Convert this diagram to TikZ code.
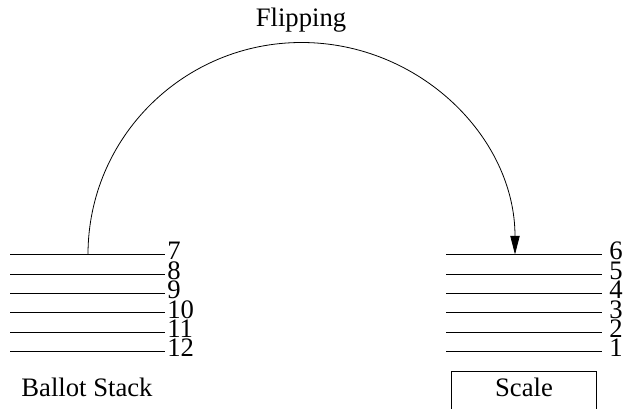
\documentclass[tikz,border=0pt]{standalone}
\usepackage{fontspec}
\setmainfont{Liberation Serif}
\usetikzlibrary{arrows.meta}
\begin{document}
\begin{tikzpicture}[x=0.75pt,y=-0.75pt,line width=0.6pt,
  txt/.style={inner sep=0pt,font=\fontsize{20}{20}\selectfont},
  numlbl/.style={txt,anchor=base west,text height=11pt,text depth=0pt},
  layer/.style={line width=0.6pt},
  flip/.style={-{Triangle[length=14pt,width=7pt]}}]
\useasboundingbox (0,0) rectangle (626,409);
% left stack
\foreach \n/\y in {7/254.5,8/274,9/293.3,10/312.7,11/332,12/351.5}{
  \draw[layer] (10,\y) coordinate (L\n a) -- (165,\y) coordinate (L\n b);
  \node[numlbl] (nl\n) at (167,\y+5.5) {\n};
}
% right stack
\foreach \n/\y in {6/254.5,5/274,4/293.3,3/312.7,2/332,1/351.5}{
  \draw[layer] (446,\y) coordinate (R\n a) -- (602,\y) coordinate (R\n b);
  \node[numlbl] (nr\n) at (609,\y+5.5) {\n};
}
% arc
\coordinate (start) at (88,254.5);
\coordinate (end) at (515,254.5);
\draw[flip] (start) arc[start angle=180,end angle=0,x radius=213.5,y radius=-212];
% labels
\node[txt,anchor=base] (flipping) at (301,27) {Flipping};
\node[txt,anchor=base west] (ballot) at (21,397) {Ballot Stack};
% scale box
\coordinate (sbl) at (451.5,409);
\coordinate (sbr) at (596.5,409);
\draw (sbl) -- (451.5,371) coordinate (stl) -- (596.5,371) coordinate (str) -- (sbr);
\node[txt,anchor=base] (scale) at (524,397) {Scale};
\end{tikzpicture}
\end{document}
